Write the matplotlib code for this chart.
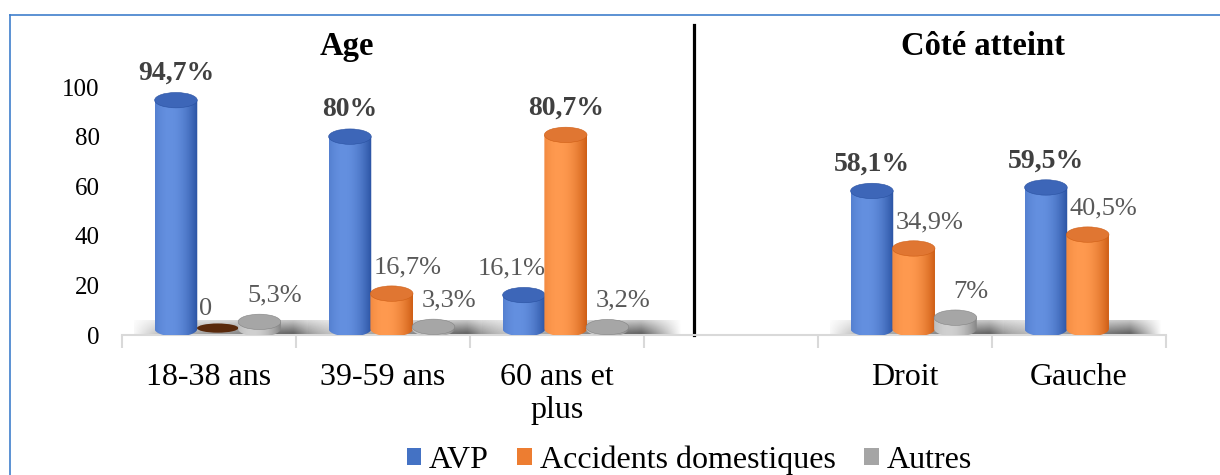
import numpy as np
import matplotlib
matplotlib.use('Agg')
import matplotlib.pyplot as plt
from matplotlib.patches import Ellipse, Polygon, Patch
from matplotlib.lines import Line2D

# chart data
categories = ['18-38 ans', '39-59 ans', '60 ans et\nplus', '', 'Droit', 'Gauche']
avp = [94.7, 80, 16.1, np.nan, 58.1, 59.5]
accidents = [0, 16.7, 80.7, np.nan, 34.9, 40.5]
autres = [5.3, 3.3, 3.2, np.nan, 7, np.nan]
series_names = ['AVP', 'Accidents domestiques', 'Autres']
y_ticks = [0, 20, 40, 60, 80, 100]
group_titles = ['Age', 'Côté atteint']

# (edge colour, highlight colour, cap colour) per series
styles = [('#2a52a2', '#6490e0', '#3d66b8'),
          ('#cf5f16', '#ff9a50', '#e07632'),
          ('#858585', '#d0d0d0', '#a6a6a6')]
legend_colors = ['#4472c4', '#ed7d31', '#a5a5a5']
zero_color = '#5a2a0c'

plt.rcParams['font.family'] = ['Liberation Serif', 'DejaVu Serif']

BAR_W = 0.245
CAP_H = 6.2   # height of the top ellipse, in data units
SHIFT = 0.05


def gradient(edge, mid, n=64):
    e = np.array(matplotlib.colors.to_rgb(edge))
    m = np.array(matplotlib.colors.to_rgb(mid))
    t = np.linspace(0, 1, n)
    prof = np.clip(1 - ((t - 0.34) / 0.66) ** 2, 0, 1)
    return (e[None, :] + (m - e)[None, :] * prof[:, None])[None, :, :]


def cylinder(ax, xc, h, style, z):
    edge, mid, cap = style
    base = CAP_H / 2 - 0.6
    if h == 0:
        ax.add_patch(Ellipse((xc, 2.8), BAR_W * 0.97, CAP_H * 0.6,
                             facecolor=zero_color, edgecolor='none', zorder=z))
        return
    t = np.linspace(0, np.pi, 40)
    arc = list(zip(xc - BAR_W / 2 * np.cos(t), base - CAP_H / 2 * np.sin(t)))
    verts = [(xc - BAR_W / 2, h)] + arc + [(xc + BAR_W / 2, h)]
    poly = Polygon(verts, closed=True, facecolor='none', edgecolor='none')
    ax.add_patch(poly)
    img = ax.imshow(gradient(edge, mid), extent=[xc - BAR_W / 2, xc + BAR_W / 2, -1, h],
                    aspect='auto', interpolation='bilinear', zorder=z)
    img.set_clip_path(poly)
    ax.add_patch(Ellipse((xc, h), BAR_W, CAP_H, facecolor=cap,
                         edgecolor=edge, lw=0.4, zorder=z + 0.1))


def floor(ax, x0, x1, z):
    n = 120
    xs = np.linspace(0, 1, n)
    alpha = np.interp(xs, [0, 0.12, 0.8, 1.0], [0.05, 0.35, 0.9, 0.0])
    vert = np.linspace(1, 0.35, 12)[:, None]
    rgba = np.zeros((12, n, 4))
    rgba[..., :3] = 0.28
    rgba[..., 3] = alpha[None, :] * vert
    ax.imshow(rgba, extent=[x0, x1, 6, 0], aspect='auto',
              interpolation='bilinear', zorder=z)


fig = plt.figure(figsize=(12.2, 4.75), dpi=100)
ax = fig.add_axes([0.1, 0.2947, 0.8557, 0.5221])

series = [avp, accidents, autres]
offsets = [-0.24, 0.0, 0.24]
x = np.arange(len(categories))

for i in x:
    vals = [s[i] for s in series]
    if all(np.isnan(v) for v in vals):
        continue
    present = [j for j, v in enumerate(vals) if not np.isnan(v)]
    left = i + SHIFT + offsets[present[0]] - BAR_W / 2 - 0.12
    right = i + SHIFT + offsets[present[-1]] + BAR_W / 2 + 0.3
    floor(ax, left, right, 1)
    top = np.nanmax(vals)
    for j, v in enumerate(vals):
        if np.isnan(v):
            continue
        xc = i + SHIFT + offsets[j]
        cylinder(ax, xc, v, styles[j], 3 + j)
        label = '0' if v == 0 else f'{v:g}'.replace('.', ',') + '%'
        if v == top:
            ax.annotate(label, (xc, v), xytext=(0, 14.5), textcoords='offset points',
                        ha='center', va='baseline', fontsize=20, fontweight='bold',
                        color='#404040', zorder=10)
        else:
            nxt = vals[j + 1] if j + 1 < len(vals) else np.nan
            dx = -0.07 if (not np.isnan(nxt) and nxt > v) else 0.09
            ax.annotate(label, (xc + dx, v), xytext=(0, 14.5), textcoords='offset points',
                        ha='center', va='baseline', fontsize=19,
                        color='#595959', zorder=10)

ax.set_xlim(-0.5, len(categories) - 0.5)
ax.set_ylim(0, 100)
ax.set_yticks(y_ticks)
ax.tick_params(axis='y', length=0, pad=16, labelsize=18)
ax.set_xticks(x)
ax.set_xticklabels(categories, fontsize=23)
ax.set_xticks(np.arange(-0.5, len(categories), 1), minor=True)
ax.tick_params(axis='x', which='major', length=0, pad=20)
ax.tick_params(axis='x', which='minor', length=9, width=1.5, color='#d9d9d9')
for s in ['top', 'right', 'left']:
    ax.spines[s].set_visible(False)
ax.spines['bottom'].set_color('#d9d9d9')
ax.spines['bottom'].set_linewidth(1.5)

# separator between the two groups
ax.axvline(2.79, ymin=0, ymax=1.25, color='black', lw=2.3, clip_on=False)

ax.text(0.2155, 1.165, group_titles[0], transform=ax.transAxes, ha='center',
        va='center', fontsize=23.5, fontweight='bold')
ax.text(0.8247, 1.165, group_titles[1], transform=ax.transAxes, ha='center',
        va='center', fontsize=23.5, fontweight='bold')

handles = [Patch(facecolor=c, edgecolor='none', label=n)
           for c, n in zip(legend_colors, series_names)]
fig.legend(handles=handles, loc='center', bbox_to_anchor=(0.565, 0.032), ncol=3,
           frameon=False, fontsize=23, handlelength=0.45, handleheight=0.45,
           handletextpad=0.25, columnspacing=0.9, borderpad=0)

# outer frame (left and top edges)
fig.add_artist(Line2D([10 / 1220, 10 / 1220], [0, 1 - 14.5 / 475],
                      color='#3f7fcc', lw=1.2))
fig.add_artist(Line2D([10 / 1220, 1], [1 - 14.5 / 475, 1 - 14.5 / 475],
                      color='#3f7fcc', lw=1.2))

fig.savefig('out.png', dpi=100)
